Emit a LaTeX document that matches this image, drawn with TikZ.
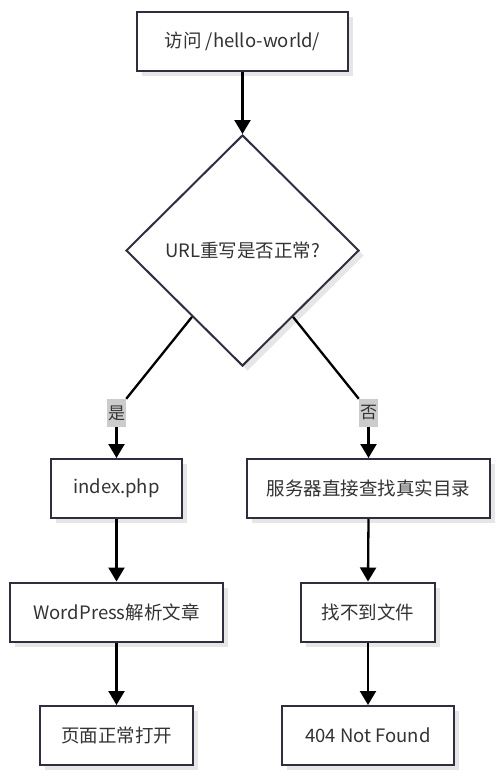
\documentclass[tikz,border=0pt]{standalone}
\usepackage{fontspec}
\setmainfont{Noto Sans CJK SC}
\usetikzlibrary{shapes.geometric,arrows.meta,shadows,calc}
\definecolor{edgec}{HTML}{2E2E40}
\definecolor{txtc}{HTML}{333333}
\definecolor{shadowc}{HTML}{E6E6E6}
\definecolor{lblc}{HTML}{CCCCCC}
\tikzset{
  box/.style={draw=edgec, line width=2pt, fill=white, text=txtc,
    minimum height=59pt, inner sep=0pt, font=\fontsize{18.5}{21}\selectfont,
    drop shadow={shadow xshift=5pt, shadow yshift=-5pt, fill=shadowc, opacity=1}},
  decision/.style={diamond, draw=edgec, line width=2pt, fill=white, text=txtc,
    minimum width=233pt, minimum height=231pt, inner sep=0pt, font=\fontsize{18.5}{21}\selectfont,
    drop shadow={shadow xshift=5pt, shadow yshift=-5pt, fill=shadowc, opacity=1}},
  lbl/.style={fill=lblc, text=txtc, minimum width=19pt, minimum height=28pt, inner sep=0pt,
    font=\fontsize{17}{19}\selectfont},
  conn/.style={line width=2.3pt, black},
  arr/.style={conn, -{Triangle[width=16pt,length=14pt]}}
}
\begin{document}
\begin{tikzpicture}[x=1pt,y=-1pt]
\useasboundingbox (0,0) rectangle (501,777);
\node[box, minimum width=211pt] (start) at (242.5,41) {访问 /hello-world/};
\node[decision] (dec) at (242.5,250.5) {URL重写是否正常?};
\node[lbl] (yes) at (116.5,413) {是};
\node[lbl] (no) at (368.5,413) {否};
\node[box, minimum width=131pt] (idx) at (116.5,488.5) {index.php};
\node[box, minimum width=243pt] (srv) at (368.5,488.5) {服务器直接查找真实目录};
\node[box, minimum width=213pt] (wp) at (116.5,612) {WordPress解析文章};
\node[box, minimum width=134pt] (nf) at (368,612) {找不到文件};
\node[box, minimum width=153pt] (ok) at (116.5,735.5) {页面正常打开};
\node[box, minimum width=172pt] (e404) at (368,735.5) {404 Not Found};
\coordinate (dl) at ($(dec.west)!0.57!(dec.south)$);
\coordinate (dr) at ($(dec.east)!0.57!(dec.south)$);
\draw[arr] (start.south) -- (dec.north);
\draw[conn] (dl) -- (yes.north east);
\draw[arr] (yes.south) -- (idx.north);
\draw[conn] (dr) -- (no.north west);
\draw[arr] (no.south) -- (srv.north);
\draw[arr] (idx.south) -- (wp.north);
\draw[arr] (wp.south) -- (ok.north);
\draw[arr] (srv.south) -- (nf.north);
\draw[arr] (nf.south) -- (e404.north);
\end{tikzpicture}
\end{document}
